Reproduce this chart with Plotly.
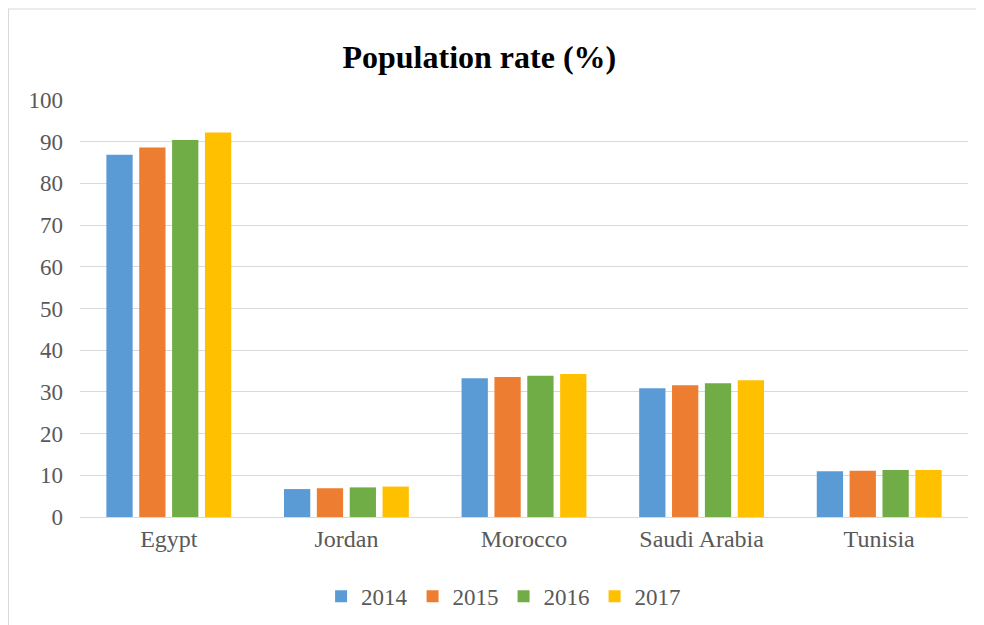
import plotly.graph_objects as go

countries = ["Egypt", "Jordan", "Morocco", "Saudi Arabia", "Tunisia"]
years = ["2014", "2015", "2016", "2017"]
rate_2014 = [86.9, 6.7, 33.3, 30.9, 11.0]
rate_2015 = [88.6, 6.9, 33.6, 31.6, 11.1]
rate_2016 = [90.4, 7.1, 33.9, 32.1, 11.3]
rate_2017 = [92.2, 7.3, 34.3, 32.8, 11.3]
y_ticks = [0, 10, 20, 30, 40, 50, 60, 70, 80, 90, 100]

colors = ['#5B9BD5', '#ED7D31', '#70AD47', '#FFC000']
series = [rate_2014, rate_2015, rate_2016, rate_2017]

fig = go.Figure()
for year, vals, c in zip(years, series, colors):
    fig.add_trace(go.Bar(x=countries, y=vals, name=year, marker_color=c,
                         marker_line_width=0))

font_family = "Liberation Serif, Times New Roman, serif"

# page body has an 8px margin, so the frame is pulled up/left to compensate
fig.add_shape(type="line", xref="paper", yref="paper",
              x0=-0.0833, x1=1.03, y0=1.2182, y1=1.2182,
              line=dict(color="#d9d9d9", width=1))
fig.add_shape(type="line", xref="paper", yref="paper",
              x0=-0.0805, x1=-0.0805, y0=1.2182, y1=-0.3,
              line=dict(color="#d9d9d9", width=1))

fig.update_layout(
    width=984, height=625,
    margin=dict(l=72, r=24, t=92, b=116),
    paper_bgcolor="white", plot_bgcolor="white",
    title=dict(text="<b>Population rate (%)</b>", x=0.479, xanchor="center",
               y=0.9216, yanchor="middle",
               font=dict(family=font_family, size=32, color="black")),
    barmode="group", bargap=0.26, bargroupgap=0.2,
    font=dict(family=font_family, size=23, color="#595959"),
    showlegend=True,
    legend=dict(orientation="h", x=0.477, xanchor="center", y=-0.19, yanchor="middle",
                font=dict(size=23, color="#595959"), itemwidth=30,
                traceorder="normal"),
    xaxis=dict(showgrid=False, showline=True, linecolor="#d9d9d9", linewidth=1,
               ticks="", tickfont=dict(size=24, color="#595959")),
    yaxis=dict(range=[0, 100], tickvals=y_ticks, showgrid=True,
               gridcolor="#d9d9d9", gridwidth=1, zeroline=False,
               ticks="", ticklabelstandoff=16,
               tickfont=dict(size=23, color="#595959")),
)

fig.write_html("out.html")
